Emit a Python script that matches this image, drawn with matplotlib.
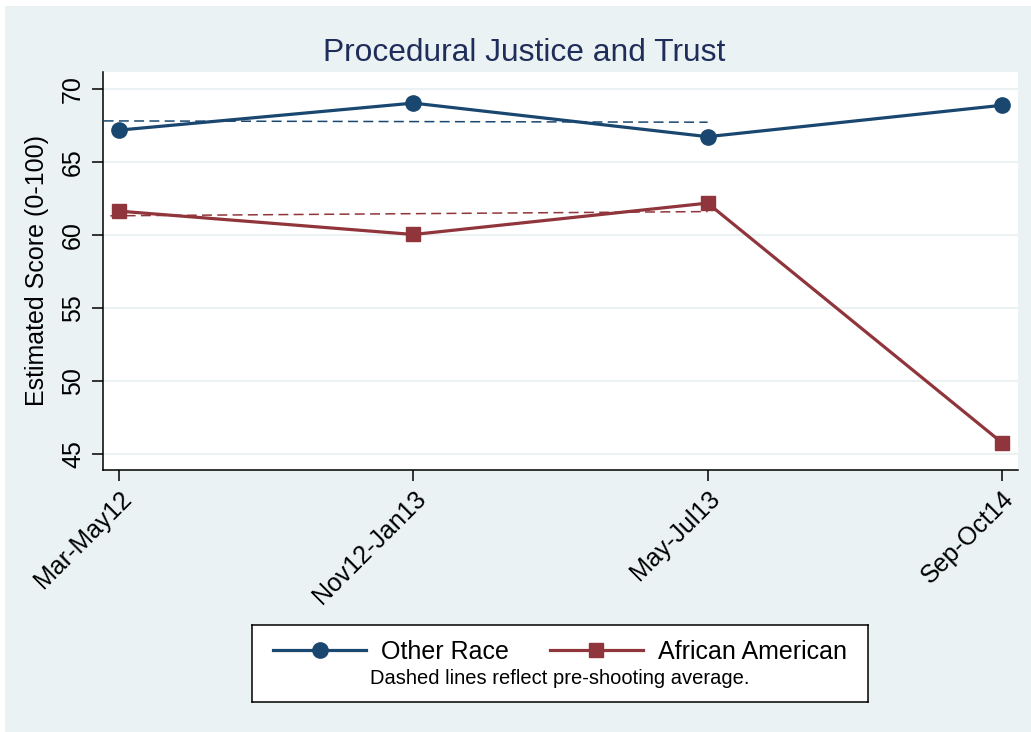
import matplotlib
matplotlib.use("Agg")
import matplotlib.pyplot as plt
from matplotlib.lines import Line2D
from matplotlib.patches import Rectangle

plt.rcParams['font.family'] = ['Liberation Sans', 'DejaVu Sans']

periods = ["Mar-May12", "Nov12-Jan13", "May-Jul13", "Sep-Oct14"]
other_race = [67.2, 69.05, 66.75, 68.9]
african_american = [61.65, 60.05, 62.2, 45.8]
# pre-shooting reference (dashed) lines: x start/end and y start/end
other_ref_x = [-0.053, 2.0]
other_ref_y = [67.83, 67.74]
aa_ref_x = [-0.03, 2.0]
aa_ref_y = [61.33, 61.62]
yticks = [45, 50, 55, 60, 65, 70]

BG = "#EAF2F3"
NAVY = "#1a476f"
MAROON = "#90353b"
TITLE = "#1f2d5a"

W, H = 1031, 732
fig = plt.figure(figsize=(W / 100, H / 100), dpi=100, facecolor="white")
fig.patches.append(Rectangle((5 / W, 0), 1 - 5 / W, 1 - 6 / H, transform=fig.transFigure,
                             facecolor=BG, edgecolor="none", zorder=-10))

ax = fig.add_axes([103.3 / W, 1 - 470 / H, (1018 - 103.3) / W, (470 - 72) / H])
ax.set_facecolor("white")
x = list(range(len(periods)))

ax.plot(other_ref_x, other_ref_y, color=NAVY, lw=1.1, dashes=(6.5, 3.5), zorder=3)
ax.plot(aa_ref_x, aa_ref_y, color=MAROON, lw=1.1, dashes=(6.5, 3.5), zorder=3)
ax.plot(x, other_race, color=NAVY, lw=2.3, marker="o", ms=11, zorder=4, clip_on=False)
ax.plot(x, african_american, color=MAROON, lw=2.3, marker="s", ms=10.5, zorder=4, clip_on=False)

ax.set_xlim(-0.054, 3.055)
ax.set_ylim(43.92, 71.18)
ax.set_yticks(yticks)
ax.set_yticklabels([str(v) for v in yticks], rotation=90, va="center", fontsize=18)
ax.set_xticks(x)
ax.set_xticklabels(periods, rotation=45, ha="right", va="top", rotation_mode="anchor", fontsize=18)
ax.tick_params(axis="both", length=8, width=1.1, color="black", pad=4)
ax.tick_params(axis="y", pad=5)
ax.grid(axis="y", color=BG, lw=1.5)
ax.set_axisbelow(True)
for s in ["top", "right"]:
    ax.spines[s].set_visible(False)
for s in ["left", "bottom"]:
    ax.spines[s].set_linewidth(1.1)
ax.set_ylabel("Estimated Score (0-100)", fontsize=18, labelpad=9)

fig.text(524 / W, 1 - 61 / H, "Procedural Justice and Trust", fontsize=22.9, color=TITLE,
         ha="center", va="baseline")

# legend box
lax = fig.add_axes([252 / W, 1 - 702 / H, (868 - 252) / W, (702 - 625) / H])
lax.set_xticks([]); lax.set_yticks([])
lax.set_facecolor("white")
for s in lax.spines.values():
    s.set_linewidth(1.1)
handles = [Line2D([], [], color=NAVY, lw=2.3, marker="o", ms=11),
           Line2D([], [], color=MAROON, lw=2.3, marker="s", ms=10.5)]
lax.legend(handles, ["Other Race", "African American"], ncol=2, loc="upper center",
           bbox_to_anchor=(0.5, 1.1), frameon=False, fontsize=18,
           handlelength=3.7, handletextpad=0.6, columnspacing=1.65)
lax.text(0.5, 0.31, "Dashed lines reflect pre-shooting average.", transform=lax.transAxes,
         ha="center", va="center", fontsize=14.5)

fig.savefig("out.png", dpi=100, facecolor="white")
